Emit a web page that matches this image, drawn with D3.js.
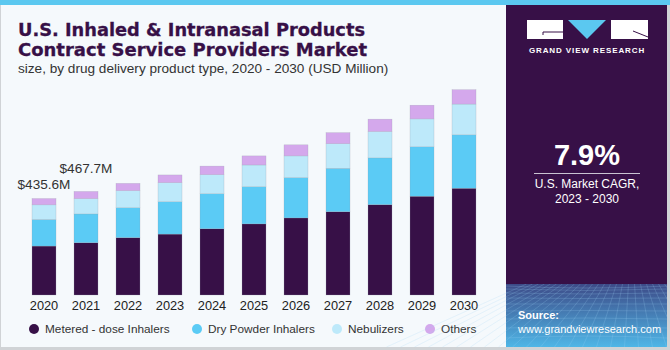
<!DOCTYPE html>
<html>
<head>
<meta charset="utf-8">
<script src="https://cdn.jsdelivr.net/npm/d3@7"></script>
<style>
  body { margin: 0; padding: 0; background: #fff; }
  svg { display: block; font-family: "Liberation Sans", Arial, sans-serif; }
</style>
</head>
<body>
<div id="viz"></div>
<script>
// data (USD Million)
let years = ["2020","2021","2022","2023","2024","2025","2026","2027","2028","2029","2030"];
let meteredDose = [221, 236, 259, 275, 299, 321, 348, 376, 408, 446, 482];
let dryPowder   = [120, 130, 135, 146, 158, 168, 182, 196, 211, 223, 241];
let nebulizers  = [ 66,  69,  77,  86,  86,  98,  98, 111, 119, 126, 139];
let others      = [28.6, 32.7, 33, 35, 39, 41, 50, 50, 56, 62, 65];
let seriesNames = ["Metered - dose Inhalers", "Dry Powder Inhalers", "Nebulizers", "Others"];
let valueLabels = [{year: "2020", text: "$435.6M", gap: 10}, {year: "2021", text: "$467.7M", gap: 18}];

let w = 670;
let h = 350;
let colors = ["#371047", "#5bcbf5", "#bde9fa", "#d4a8ec"];

let viz = d3.select("#viz")
  .append("svg")
    .attr("width", w)
    .attr("height", h);

// backgrounds
viz.append("rect").attr("x", 0).attr("y", 0).attr("width", w).attr("height", h).attr("fill", "#d0d3d6");
viz.append("rect").attr("x", 1).attr("y", 0).attr("width", 666).attr("height", 347).attr("fill", "#f5f9fc");
viz.append("rect").attr("x", 0).attr("y", 0).attr("width", w).attr("height", 5).attr("fill", "#5bc8f0");

// title
let title = viz.append("text")
  .attr("fill", "#371047")
  .attr("stroke", "#371047")
  .attr("stroke-width", 0.3)
  .style("font-family", "DejaVu Sans, sans-serif")
  .style("font-size", "18.5px")
  .style("font-weight", "bold");
title.append("tspan").attr("x", 18).attr("y", 36)
  .attr("textLength", 347).attr("lengthAdjust", "spacingAndGlyphs")
  .text("U.S. Inhaled & Intranasal Products");
title.append("tspan").attr("x", 18).attr("y", 56)
  .attr("textLength", 349).attr("lengthAdjust", "spacingAndGlyphs")
  .text("Contract Service Providers Market");

viz.append("text")
  .attr("x", 18).attr("y", 73)
  .attr("fill", "#333")
  .style("font-size", "13.6px")
  .text("size, by drug delivery product type, 2020 - 2030 (USD Million)");

// scales
let xScale = d3.scaleBand().domain(years).range([14, 494]).padding(18 / 42);
let yScale = d3.scaleLinear().domain([0, 1000]).range([295, 73.5]);

let rows = years.map(function(y, i){
  return {year: y, m: meteredDose[i], d: dryPowder[i], n: nebulizers[i], o: others[i]};
});
let stack = d3.stack().keys(["m", "d", "n", "o"]);
let stacked = stack(rows);

viz.selectAll(".layer").data(stacked).enter()
  .append("g")
    .attr("class", "layer")
    .attr("fill", function(d, i){ return colors[i]; })
  .selectAll("rect").data(function(d){ return d; }).enter()
  .append("rect")
    .attr("x", function(d){ return xScale(d.data.year); })
    .attr("y", function(d){ return yScale(d[1]); })
    .attr("width", xScale.bandwidth())
    .attr("height", function(d){ return yScale(d[0]) - yScale(d[1]); })
    .attr("stroke", "#9aa3ad")
    .attr("stroke-width", 0.4)
    .attr("stroke-opacity", 0.6);

// x axis labels
let xAxis = d3.axisBottom(xScale).tickSize(0).tickPadding(6);
let axisG = viz.append("g").attr("transform", "translate(0,295)").call(xAxis);
axisG.select(".domain").remove();
axisG.selectAll("text")
  .attr("fill", "#222")
  .style("font-size", "12.8px")
  .style("font-family", "Liberation Sans, Arial, sans-serif");

// value labels
let totals = rows.map(function(r){ return r.m + r.d + r.n + r.o; });
viz.selectAll(".vlabel").data(valueLabels).enter()
  .append("text")
    .attr("class", "vlabel")
    .attr("x", function(d){ return xScale(d.year) + xScale.bandwidth() / 2; })
    .attr("y", function(d){ return yScale(totals[years.indexOf(d.year)]) - d.gap; })
    .attr("text-anchor", "middle")
    .attr("fill", "#333")
    .style("font-size", "13.6px")
    .text(function(d){ return d.text; });

// legend
let legendX = [34, 197, 337, 430];
let legend = viz.selectAll(".legend").data(seriesNames).enter()
  .append("g")
    .attr("class", "legend")
    .attr("transform", function(d, i){ return "translate(" + legendX[i] + ",329)"; });
legend.append("circle").attr("r", 5).attr("fill", function(d, i){ return colors[i]; });
legend.append("text")
  .attr("x", 11).attr("y", 4.3)
  .attr("fill", "#333")
  .style("font-size", "11.8px")
  .text(function(d){ return d; });

// right panel
let px = 506, pw = 161;
let defs = viz.append("defs");
let grad = defs.append("linearGradient").attr("id", "panelGrad").attr("x1", 0).attr("y1", 0).attr("x2", 0).attr("y2", 1);
grad.append("stop").attr("offset", "0%").attr("stop-color", "#371047");
grad.append("stop").attr("offset", "76%").attr("stop-color", "#3a1a55");
grad.append("stop").attr("offset", "82%").attr("stop-color", "#3d4d8a");
grad.append("stop").attr("offset", "100%").attr("stop-color", "#4fb6e6");
viz.append("rect").attr("x", px).attr("y", 5).attr("width", pw).attr("height", 342).attr("fill", "url(#panelGrad)");

// decorative grid at the bottom of the panel
let grid = viz.append("g").attr("stroke", "#9fd6f5").attr("stroke-opacity", 0.35).attr("stroke-width", 0.6).attr("fill", "none");
let hy = [286, 289, 293, 298, 304, 311, 319, 328, 338];
hy.forEach(function(y, i){
  grid.append("path").attr("d", "M" + px + "," + y + " Q" + (px + pw / 2) + "," + (y + 4 - i) + " " + (px + pw) + "," + y);
});
d3.range(-10, 21).forEach(function(k){
  let xt = px + pw / 2 + k * 6;
  let xb = px + pw / 2 + k * 14 - 60;
  grid.append("line").attr("x1", xt).attr("y1", 284).attr("x2", xb).attr("y2", 347);
});
viz.append("rect").attr("x", px).attr("y", 5).attr("width", pw).attr("height", 279).attr("fill", "#371047");

// logo
let logo = viz.append("g");
logo.append("rect").attr("x", 527).attr("y", 20).attr("width", 36).attr("height", 19).attr("fill", "#fff");
logo.append("path").attr("d", "M568,20 L606,20 L587,39 Z").attr("fill", "#5bc8f0");
logo.append("rect").attr("x", 611).attr("y", 20).attr("width", 37).attr("height", 19).attr("fill", "#fff");
logo.append("path").attr("d", "M543,35 L543,32 L563,32").attr("stroke", "#371047").attr("stroke-width", 1).attr("fill", "none");
logo.append("path").attr("d", "M633,31 L648,37").attr("stroke", "#371047").attr("stroke-width", 1).attr("fill", "none");
viz.append("text")
  .attr("x", 587).attr("y", 53)
  .attr("text-anchor", "middle")
  .attr("fill", "#fff")
  .style("font-size", "8px")
  .style("font-weight", "bold")
  .style("letter-spacing", "0.9px")
  .text("GRAND VIEW RESEARCH");

// CAGR
viz.append("text")
  .attr("x", 587).attr("y", 165)
  .attr("text-anchor", "middle")
  .attr("fill", "#fff")
  .style("font-size", "29px")
  .style("font-weight", "bold")
  .text("7.9%");
viz.append("line").attr("x1", 534).attr("x2", 640).attr("y1", 173.5).attr("y2", 173.5).attr("stroke", "#c9c3d2").attr("stroke-width", 1);
viz.append("text")
  .attr("x", 587).attr("y", 188)
  .attr("text-anchor", "middle")
  .attr("fill", "#fff")
  .style("font-size", "12px")
  .text("U.S. Market CAGR,");
viz.append("text")
  .attr("x", 587).attr("y", 203)
  .attr("text-anchor", "middle")
  .attr("fill", "#fff")
  .style("font-size", "12px")
  .text("2023 - 2030");

// source
viz.append("text")
  .attr("x", 518).attr("y", 319)
  .attr("fill", "#fff")
  .style("font-size", "11px")
  .style("font-weight", "bold")
  .text("Source:");
viz.append("text")
  .attr("x", 518).attr("y", 333)
  .attr("fill", "#fff")
  .style("font-size", "11px")
  .text("www.grandviewresearch.com");
</script>
</body>
</html>
